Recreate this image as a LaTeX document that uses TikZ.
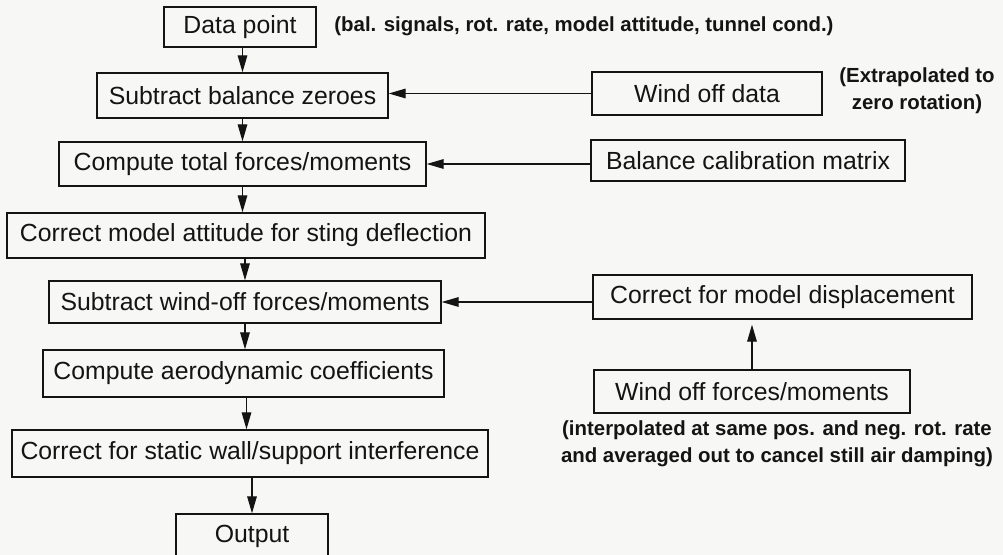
\documentclass[tikz,border=0pt]{standalone}
\usepackage{fontspec}
\setmainfont{Liberation Sans}
\usepackage{xcolor}
\usetikzlibrary{arrows.meta}

\definecolor{paper}{RGB}{247,247,245}
\definecolor{ink}{RGB}{20,20,20}

\tikzset{
    procbox/.style={draw=ink, line width=0.7pt, inner sep=0pt, text=ink,
        font=\fontsize{12.4}{14}\selectfont},
    remark/.style={text=ink, inner sep=0pt, align=center,
        font=\fontsize{10.2}{13.5}\selectfont\bfseries},
    flow/.style={draw=ink, line width=0.6pt, -{Triangle[length=8.5pt,width=4.8pt]}}
}

\begin{document}
\begin{tikzpicture}[x=0.5pt, y=-0.5pt]
    % Page
    \fill[paper] (0,0) rectangle (1003,555);
    \useasboundingbox (0,0) rectangle (1003,555);

    % Main chain
    \node[procbox, minimum width=76pt, minimum height=20pt] (data) at (240,27) {Data point};
    \node[procbox, minimum width=145.5pt, minimum height=22.5pt] (zeroes) at (242.5,95.5) {Subtract balance zeroes};
    \node[procbox, minimum width=183.5pt, minimum height=22pt] (total) at (242.5,164) {Compute total forces/moments};
    \node[procbox, minimum width=239pt, minimum height=22.5pt] (attitude) at (246,235.5) {Correct model attitude for sting deflection};
    \node[procbox, minimum width=196pt, minimum height=21pt] (windoff) at (245,302) {Subtract wind-off forces/moments};
    \node[procbox, minimum width=200.5pt, minimum height=23.5pt] (coeff) at (243.5,373.5) {Compute aerodynamic coefficients};
    \node[procbox, minimum width=238pt, minimum height=23.5pt] (wall) at (250,453.5) {Correct for static wall/support interference};
    \node[procbox, minimum width=76pt, minimum height=22pt] (output) at (252,536) {Output};

    % Side inputs
    \node[procbox, minimum width=115pt, minimum height=21.5pt] (woffdata) at (707,93.5) {Wind off data};
    \node[procbox, minimum width=157pt, minimum height=20.5pt] (calib) at (748,160.5) {Balance calibration matrix};
    \node[procbox, minimum width=189.5pt, minimum height=22pt] (displ) at (782.5,297) {Correct for model displacement};
    \node[procbox, minimum width=158pt, minimum height=21.5pt] (woffforces) at (752,391.5) {Wind off forces/moments};

    % Remarks
    \node[remark, anchor=west] (balnote) at (334,26) {(bal. signals, rot. rate, model attitude, tunnel cond.)};
    \node[remark] (extrapnote) at (917,90.5) {(Extrapolated to\\zero rotation)};
    \node[remark] (interpnote) at (777,443.5) {(interpolated at same pos. and neg. rot. rate\\and averaged out to cancel still air damping)};

    % Vertical flow
    \draw[flow] (zeroes |- data.south) -- (zeroes.north);
    \draw[flow] (zeroes) -- (zeroes |- total.north);
    \draw[flow] (total) -- (total |- attitude.north);
    \draw[flow] (windoff |- attitude.south) -- (windoff.north);
    \draw[flow] (windoff) -- (windoff |- coeff.north);
    \draw[flow] (coeff.south -| 246.5,0) -- (wall.north -| 246.5,0);
    \draw[flow] (output |- wall.south) -- (output.north);

    % Side flow
    \draw[flow] (woffdata) -- (woffdata -| zeroes.east);
    \draw[flow] (calib.west |- total) -- (total.east);
    \draw[flow] (displ.west |- windoff) -- (windoff.east);
    \draw[flow, shorten >=2.5pt] (woffforces) -- (woffforces |- displ.south);
\end{tikzpicture}
\end{document}
